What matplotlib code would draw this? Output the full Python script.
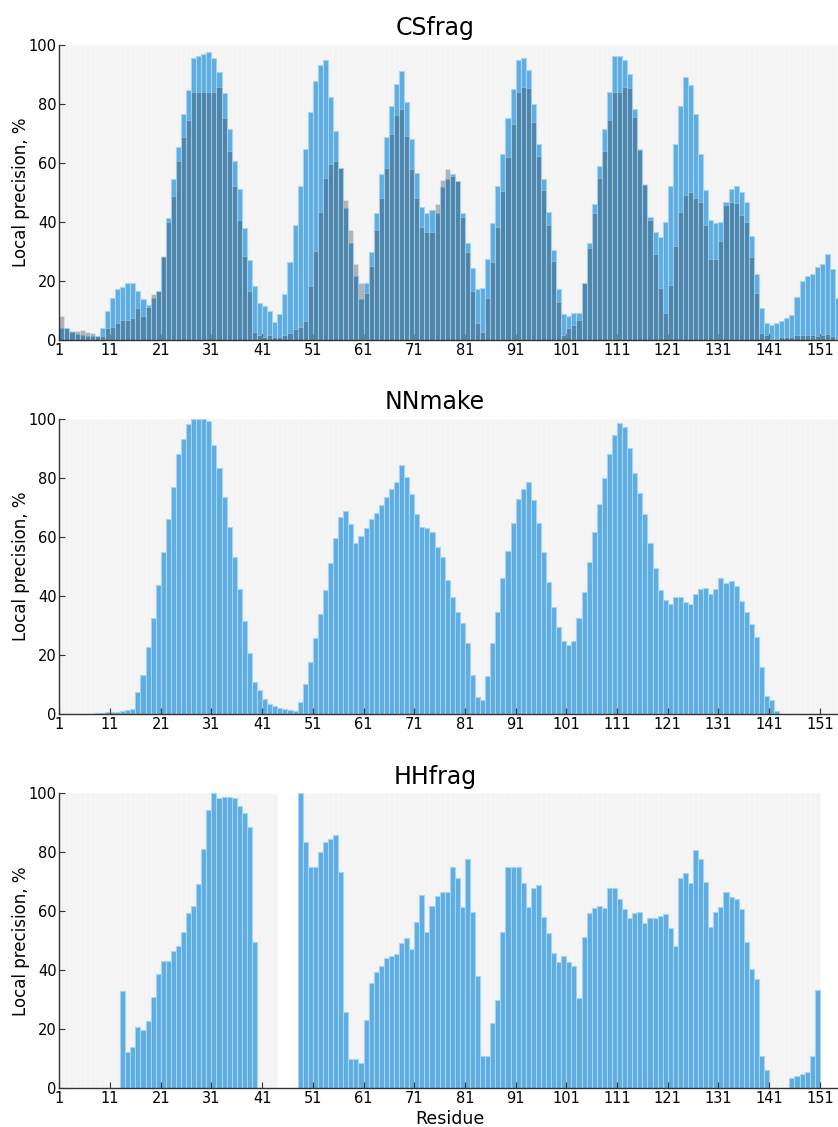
import numpy as np
from matplotlib import pyplot as plt

residues = np.arange(1, 155)

# CSfrag: two result sets shown on top of each other
csfrag_a = [4.0, 4.2, 2.6, 2.0, 1.8, 1.5, 1.3, 1.2, 4.0, 9.8,
            14.3, 17.2, 17.8, 19.4, 19.4, 16.5, 13.8, 11.9, 14.3, 16.6,
            28.2, 41.2, 54.4, 65.2, 76.7, 84.7, 95.6, 96.2, 96.8, 97.4,
            95.6, 90.9, 83.5, 71.6, 60.7, 51.0, 37.8, 27.1, 18.4, 12.6,
            11.5, 9.8, 6.2, 8.7, 15.5, 26.3, 38.9, 52.1, 64.7, 77.3,
            87.7, 93.3, 95.0, 82.4, 70.9, 58.4, 44.6, 32.7, 21.7, 13.8,
            19.4, 29.7, 42.9, 56.1, 68.7, 79.3, 86.6, 91.0, 80.7, 68.1,
            56.7, 45.1, 42.9, 44.0, 42.9, 51.9, 54.5, 56.2, 53.8, 42.9,
            32.7, 24.5, 17.2, 17.7, 27.4, 39.5, 52.1, 62.9, 75.1, 84.9,
            95.0, 95.6, 91.6, 80.1, 66.4, 54.4, 43.5, 30.5, 17.2, 8.7,
            8.1, 9.0, 9.0, 19.4, 32.7, 45.9, 58.9, 71.6, 84.1, 96.2,
            96.2, 95.0, 90.0, 78.4, 64.7, 52.5, 41.8, 36.7, 34.8, 40.1,
            52.1, 66.4, 79.3, 89.2, 86.3, 76.7, 62.9, 50.8, 40.6, 39.5,
            40.1, 46.8, 51.0, 52.1, 50.2, 46.8, 35.3, 22.2, 10.9, 5.6,
            5.1, 5.6, 6.4, 7.3, 8.5, 14.4, 20.1, 21.8, 22.2, 24.6,
            25.6, 29.0, 24.0, 14.1]
csfrag_b = [8.1, 4.0, 3.0, 3.2, 3.3, 2.8, 2.4, 1.5, 1.2, 4.2,
            4.5, 5.6, 6.8, 6.8, 7.6, 10.9, 8.1, 11.3, 15.5, 16.6,
            28.6, 40.1, 48.8, 60.6, 68.7, 74.4, 84.1, 84.1, 84.1, 84.1,
            84.1, 85.8, 75.1, 64.1, 52.1, 40.6, 28.6, 16.6, 2.8, 1.7,
            1.1, 1.7, 1.1, 1.1, 1.7, 2.3, 3.6, 4.5, 6.4, 18.3,
            30.2, 43.5, 55.0, 59.5, 60.6, 58.1, 47.4, 37.2, 25.6, 19.4,
            16.0, 25.1, 37.2, 48.0, 58.4, 69.8, 76.2, 78.4, 69.2, 57.8,
            48.0, 38.4, 36.7, 36.7, 46.0, 54.2, 57.8, 55.6, 53.8, 41.8,
            29.9, 16.6, 5.9, 2.8, 14.3, 26.5, 38.4, 50.5, 61.9, 73.1,
            84.1, 85.8, 85.4, 73.9, 62.3, 50.8, 38.9, 26.9, 13.0, 1.7,
            4.0, 5.1, 6.8, 19.2, 31.0, 43.1, 55.0, 64.1, 74.5, 84.1,
            84.1, 85.8, 85.4, 75.6, 64.3, 53.0, 40.6, 29.1, 17.7, 9.3,
            18.8, 31.9, 43.5, 49.1, 50.2, 48.0, 46.8, 38.9, 27.4, 27.4,
            33.6, 45.7, 46.8, 46.3, 42.3, 40.1, 28.0, 15.8, 2.3, 1.7,
            0.5, 0.5, 1.1, 1.1, 1.1, 1.7, 1.7, 1.7, 1.7, 1.5,
            1.7, 2.0, 1.5, 0.5]

nnmake = [0, 0, 0, 0, 0, 0, 0.1, 0.3, 0.4, 0.8,
          0.8, 0.8, 0.9, 1.3, 1.8, 7.3, 13.2, 22.6, 32.7, 43.7,
          54.8, 66.1, 77.1, 88.0, 93.2, 98.2, 100, 100, 100, 99.4,
          91.2, 83.3, 73.7, 63.5, 53.1, 42.3, 31.5, 20.8, 10.7, 8.1,
          5.2, 3.4, 2.7, 1.9, 1.6, 1.3, 1.0, 4.2, 10.1, 17.7,
          25.6, 33.9, 42.0, 51.1, 59.5, 66.9, 68.9, 64.4, 57.9, 60.3,
          63.2, 66.0, 68.2, 70.8, 73.7, 76.3, 78.5, 84.3, 80.2, 74.5,
          67.7, 63.3, 62.9, 61.8, 56.5, 53.1, 45.4, 39.5, 34.5, 30.7,
          24.0, 13.2, 5.6, 4.7, 12.9, 24.0, 34.7, 46.0, 55.4, 64.6,
          72.8, 76.2, 78.5, 72.5, 64.9, 54.8, 44.6, 36.4, 29.6, 24.7,
          23.4, 24.9, 32.4, 41.5, 51.4, 61.6, 71.2, 79.9, 88.1, 94.6,
          98.5, 97.2, 90.3, 81.8, 74.8, 67.7, 58.1, 49.4, 42.0, 38.6,
          37.3, 39.5, 39.8, 38.1, 37.2, 40.7, 42.3, 42.8, 40.6, 42.3,
          46.0, 44.3, 45.2, 43.5, 38.4, 34.5, 30.4, 26.0, 16.0, 6.1,
          4.7, 1.1, 0, 0, 0, 0, 0, 0, 0, 0,
          0, 0, 0, 0]

# None = no fragments for that residue
hhfrag = [0, 0, 0, 0, 0, 0, 0, 0, 0, 0,
          0, 0, 33.1, 12.2, 14.1, 20.7, 19.8, 22.9, 30.8, 38.6,
          43.2, 43.2, 46.7, 48.4, 53.1, 59.3, 61.8, 69.2, 81.2, 94.4,
          100, 98.3, 98.6, 98.6, 98.5, 95.7, 93.2, 88.7, 49.7, 0,
          0, 0, 0, None, None, None, None, 100, 83.4, 74.9,
          74.9, 80.0, 83.4, 84.6, 85.8, 73.2, 25.8, 9.8, 9.8, 8.5,
          23.2, 35.6, 39.3, 41.5, 44.1, 45.0, 45.4, 49.4, 50.8, 47.2,
          56.3, 65.5, 52.9, 61.8, 65.2, 66.4, 66.4, 74.9, 71.4, 61.5,
          77.6, 59.9, 38.2, 11.0, 11.0, 22.0, 29.9, 53.1, 74.9, 74.9,
          74.9, 69.5, 61.5, 68.0, 68.9, 58.1, 52.5, 45.8, 42.9, 44.9,
          42.9, 41.5, 30.7, 51.4, 59.3, 61.0, 61.8, 61.2, 67.8, 67.8,
          64.2, 60.7, 57.9, 59.3, 59.9, 55.9, 57.6, 57.6, 58.5, 59.0,
          54.2, 48.2, 71.4, 72.9, 69.5, 80.8, 77.7, 69.8, 54.8, 59.9,
          61.6, 66.7, 64.7, 64.3, 60.7, 49.7, 40.6, 36.9, 11.0, 6.1,
          0, 0, 0, 0, 3.4, 4.2, 4.7, 5.6, 11.0, 33.3,
          None, None, None, None]

xticks = np.arange(1, 152, 10)
yticks = np.arange(0, 101, 20)

BLUE = '#5DADE2'
DARK = '#2C3E50'


def to_array(values):
    return np.array([np.nan if v is None else v for v in values], dtype=float)


def draw_panel(ax, title, series, xlabel=None):
    first = to_array(series[0])
    has_data = ~np.isnan(first)
    # light grey column behind every residue that has a value
    ax.bar(residues[has_data], 100, width=1, align='edge', color='#f4f4f4',
           edgecolor='#f8f8f8', linewidth=0.5, zorder=0)
    ax.bar(residues[has_data], first[has_data], width=1, align='edge',
           color=BLUE, edgecolor='#a9d4f0', linewidth=0.8, zorder=1)
    for extra in series[1:]:
        extra = to_array(extra)
        ok = ~np.isnan(extra)
        ax.bar(residues[ok], extra[ok], width=1, align='edge', color=DARK,
               alpha=0.35, edgecolor='white', linewidth=0.5, zorder=2)

    ax.set_xlim(1, 155)
    ax.set_ylim(0, 100)
    ax.set_xticks(xticks)
    ax.set_yticks(yticks)
    ax.tick_params(direction='in', length=4, labelsize=10.5, pad=2,
                   color='#333333', top=False, right=False)
    for side in ('top', 'right'):
        ax.spines[side].set_visible(False)
    for side in ('left', 'bottom'):
        ax.spines[side].set_color('#333333')
        ax.spines[side].set_linewidth(1.0)
        ax.spines[side].set_zorder(3)
    ax.set_facecolor('white')
    ax.set_title(title, fontsize=17, x=0.481, pad=7)
    ax.set_ylabel('Local precision, %', fontsize=12, labelpad=-1)
    if xlabel:
        ax.set_xlabel(xlabel, fontsize=12.5, labelpad=3)


fig = plt.figure(figsize=(8.38, 11.27), dpi=100)
ax1 = fig.add_axes([0.0708, 0.6983, 0.9317, 0.2620])
ax2 = fig.add_axes([0.0708, 0.3665, 0.9317, 0.2617])
ax3 = fig.add_axes([0.0708, 0.0343, 0.9317, 0.2618])

draw_panel(ax1, 'CSfrag', [csfrag_a, csfrag_b])
draw_panel(ax2, 'NNmake', [nnmake])
draw_panel(ax3, 'HHfrag', [hhfrag], xlabel='Residue')

fig.savefig('out.png', dpi=100)
